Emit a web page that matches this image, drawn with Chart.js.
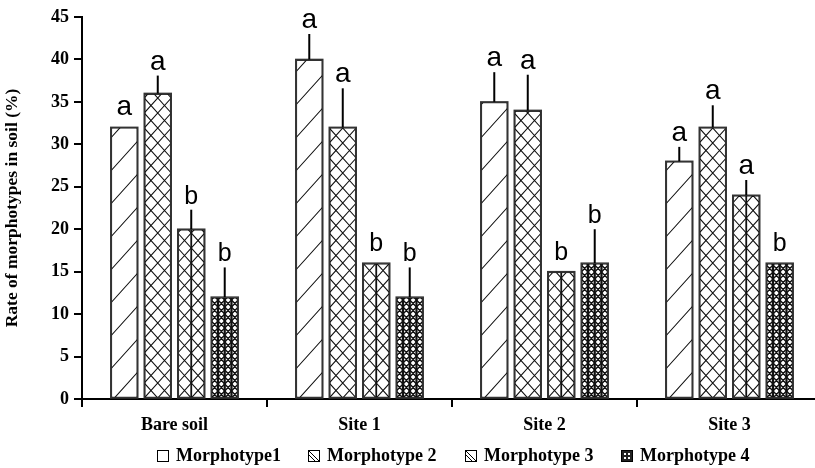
<!DOCTYPE html>
<html>
<head>
<meta charset="utf-8">
<script src="https://cdn.jsdelivr.net/npm/chart.js@4.4.0/dist/chart.umd.min.js"></script>
<style>
  html, body { margin: 0; padding: 0; background: #fff; overflow: hidden; }
  #wrap { position: relative; width: 815px; height: 468px; overflow: hidden; }
  #c { position: absolute; left: 0; top: 0; }
  .leg { position: absolute; top: 445px; font: bold 18px "Liberation Serif", "Times New Roman", serif; color: #000; white-space: nowrap; line-height: 20px; }
  .leg canvas { position: absolute; left: 0; top: 5px; }
  .leg span { position: absolute; left: 19px; top: 0; }
</style>
</head>
<body>
<div id="wrap">
  <canvas id="c" width="830" height="468" style="width:830px;height:468px"></canvas>
</div>
<script>
// ---- data ----
const categories = ['Bare soil', 'Site 1', 'Site 2', 'Site 3'];
const seriesNames = ['Morphotype1', 'Morphotype 2', 'Morphotype 3', 'Morphotype 4'];
const morph1 = [32, 40, 35, 28];
const morph2 = [36, 32, 34, 32];
const morph3 = [20, 16, 15, 24];
const morph4 = [12, 12, 16, 16];
const err1 = [0, 3.0, 3.5, 1.7];
const err2 = [2.1, 4.6, 4.2, 2.6];
const err3 = [2.3, 0, 0, 1.8];
const err4 = [3.5, 3.5, 4.0, 0];
const letters1 = ['a', 'a', 'a', 'a'];
const letters2 = ['a', 'a', 'a', 'a'];
const letters3 = ['b', 'b', 'b', 'a'];
const letters4 = ['b', 'b', 'b', 'b'];
const yTickValues = [0, 5, 10, 15, 20, 25, 30, 35, 40, 45];
const yTitle = 'Rate of morphotypes in soil (%)';

const values = [morph1, morph2, morph3, morph4];
const errors = [err1, err2, err3, err4];
const letters = [letters1, letters2, letters3, letters4];

// ---- hatch drawing ----
function drawHatch(ctx, type, left, right, top, bottom) {
  const w = right - left;
  const h = bottom - top;
  ctx.save();
  ctx.beginPath();
  ctx.rect(left + 0.75, top + 0.75, w - 1.5, h - 0.75);
  ctx.clip();
  ctx.strokeStyle = '#111';
  ctx.lineCap = 'butt';
  if (type === 0) {
    ctx.lineWidth = 1.1;
    ctx.beginPath();
    for (let yb = bottom + 4; yb > top - 40; yb -= 33) {
      ctx.moveTo(left, yb);
      ctx.lineTo(right, yb - 30);
    }
    ctx.stroke();
  } else if (type === 1 || type === 2) {
    const W = w / 2, H = 15, s = H / W;
    ctx.lineWidth = 1.1;
    ctx.beginPath();
    for (let m = -4; m * H < h + 40; m++) {
      const yb = bottom - m * H;
      ctx.moveTo(left, yb); ctx.lineTo(right, yb - s * w);
      ctx.moveTo(left, yb); ctx.lineTo(right, yb + s * w);
    }
    ctx.stroke();
    if (type === 2) {
      ctx.lineWidth = 1.8;
      ctx.beginPath();
      ctx.moveTo(left + w / 2, top);
      ctx.lineTo(left + w / 2, bottom);
      ctx.stroke();
    }
  } else {
    const W = w / 4, H = 7, s = H / W;
    ctx.lineWidth = 1.4;
    ctx.beginPath();
    for (let m = -6; m * H < h + 40; m++) {
      const yb = bottom - m * H;
      ctx.moveTo(left, yb); ctx.lineTo(right, yb - s * w);
      ctx.moveTo(left, yb); ctx.lineTo(right, yb + s * w);
    }
    ctx.stroke();
    ctx.lineWidth = 2.2;
    ctx.beginPath();
    for (let k = 1; k < 4; k++) {
      ctx.moveTo(left + k * W, top); ctx.lineTo(left + k * W, bottom);
    }
    ctx.stroke();
  }
  ctx.restore();
}

const hatchPlugin = {
  id: 'hatch',
  afterDatasetDraw(chart, args) {
    const ctx = chart.ctx;
    const meta = args.meta;
    meta.data.forEach(el => {
      const p = el.getProps(['x', 'y', 'base', 'width'], true);
      drawHatch(ctx, args.index, p.x - p.width / 2, p.x + p.width / 2, p.y, p.base);
      ctx.save();
      ctx.strokeStyle = '#333';
      ctx.lineWidth = 1.5;
      ctx.strokeRect(p.x - p.width / 2, p.y, p.width, p.base - p.y);
      ctx.restore();
    });
  },
  afterDatasetsDraw(chart) {
    const ctx = chart.ctx;
    const yScale = chart.scales.y;
    chart.data.datasets.forEach((ds, i) => {
      const meta = chart.getDatasetMeta(i);
      meta.data.forEach((el, j) => {
        const p = el.getProps(['x', 'y'], true);
        const e = errors[i][j];
        const v = values[i][j];
        let topY = p.y;
        if (e > 0) {
          topY = yScale.getPixelForValue(v + e);
          ctx.save();
          ctx.strokeStyle = '#000';
          ctx.lineWidth = 2;
          ctx.beginPath();
          ctx.moveTo(p.x, p.y);
          ctx.lineTo(p.x, topY);
          ctx.stroke();
          ctx.restore();
        }
        const letter = letters[i][j];
        const gap = e > 0 ? 6 : 12;
        ctx.save();
        ctx.fillStyle = '#000';
        ctx.textAlign = 'center';
        ctx.textBaseline = 'alphabetic';
        ctx.font = (letter === 'a' ? '28px' : '25px') + ' "Liberation Sans", Arial, sans-serif';
        ctx.fillText(letter, p.x, topY - gap);
        ctx.restore();
      });
    });
  }
};

const axisFont = { family: '"Liberation Serif", "Times New Roman", serif', weight: 'bold', size: 18 };

new Chart(document.getElementById('c'), {
  type: 'bar',
  data: {
    labels: categories,
    datasets: values.map((v, i) => ({
      label: seriesNames[i],
      data: v,
      backgroundColor: '#fff',
      borderColor: '#333',
      borderWidth: 1.5,
      borderSkipped: false,
      categoryPercentage: 0.724,
      barPercentage: 0.806
    }))
  },
  options: {
    responsive: false,
    animation: false,
    events: [],
    layout: { padding: { left: 0, right: 8, top: 17, bottom: 0 } },
    plugins: { legend: { display: false }, tooltip: { enabled: false } },
    scales: {
      x: {
        offset: true,
        grid: { offset: true, drawOnChartArea: false, drawTicks: true, tickLength: 8, color: '#000', lineWidth: 2 },
        border: { display: true, color: '#000', width: 2 },
        ticks: { font: axisFont, color: '#000', padding: 8, maxRotation: 0 },
        afterFit: s => { s.height = 69; }
      },
      y: {
        min: 0, max: 45,
        afterBuildTicks: s => { s.ticks = yTickValues.map(v => ({ value: v })); },
        ticks: { font: axisFont, color: '#000', padding: 5 },
        grid: { drawOnChartArea: false, drawTicks: true, tickLength: 8, color: '#000', lineWidth: 2 },
        border: { display: true, color: '#000', width: 2 },
        title: { display: true, text: yTitle, color: '#000', font: { family: axisFont.family, weight: 'bold', size: 17.5 }, padding: { top: 2, bottom: 0 } },
        afterFit: s => { s.width = 82; }
      }
    }
  },
  plugins: [hatchPlugin]
});

// ---- legend (HTML) ----
const legendLeft = [157, 308, 465, 621];
const wrap = document.getElementById('wrap');
seriesNames.forEach((name, i) => {
  const d = document.createElement('div');
  d.className = 'leg';
  d.style.left = legendLeft[i] + 'px';
  const cv = document.createElement('canvas');
  cv.width = 12; cv.height = 12;
  const g = cv.getContext('2d');
  g.fillStyle = '#fff'; g.fillRect(0, 0, 12, 12);
  g.strokeStyle = '#000'; g.lineWidth = 1;
  if (i === 1 || i === 2) {
    g.beginPath(); g.moveTo(1, 1); g.lineTo(11, 11); g.moveTo(1, 5); g.lineTo(7, 11); g.stroke();
  } else if (i === 3) {
    g.fillStyle = '#222'; g.fillRect(1, 1, 10, 10);
    g.fillStyle = '#fff'; g.fillRect(3, 3, 2, 2); g.fillRect(7, 3, 2, 2); g.fillRect(3, 7, 2, 2); g.fillRect(7, 7, 2, 2);
  }
  g.strokeStyle = '#000'; g.lineWidth = 1; g.strokeRect(0.5, 0.5, 11, 11);
  d.appendChild(cv);
  const sp = document.createElement('span');
  sp.textContent = name;
  d.appendChild(sp);
  wrap.appendChild(d);
});
</script>
</body>
</html>
